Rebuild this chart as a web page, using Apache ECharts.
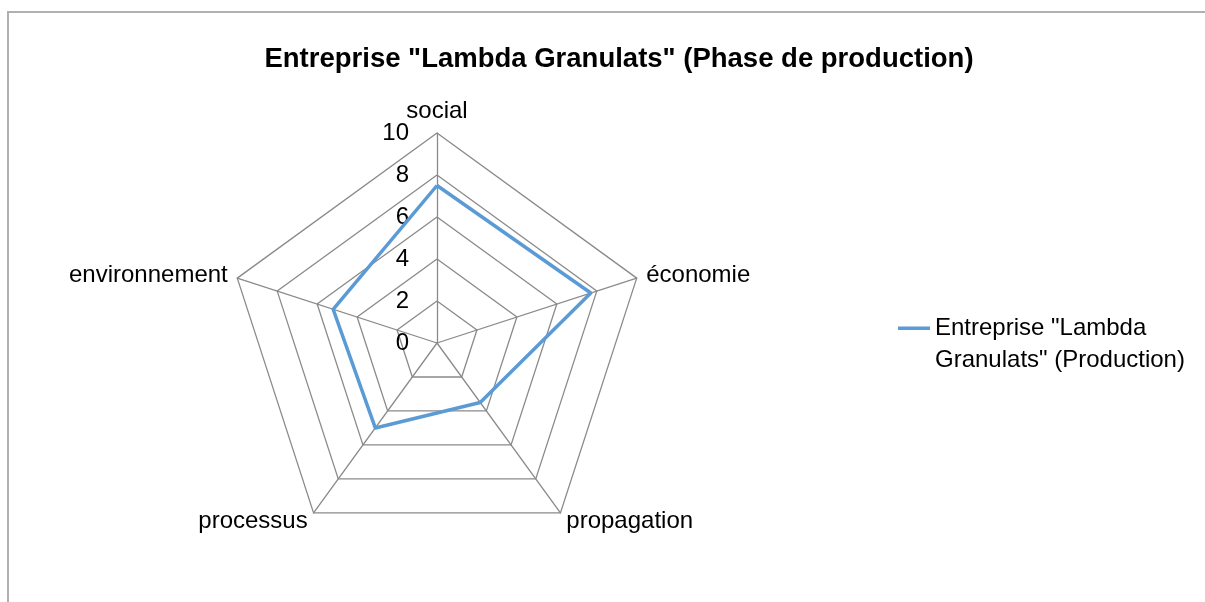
<!DOCTYPE html>
<html>
<head>
<meta charset="utf-8">
<script src="https://cdn.jsdelivr.net/npm/echarts@6/dist/echarts.min.js"></script>
<style>
html,body{margin:0;padding:0;background:#fff;}
#main{width:1205px;height:602px;}
</style>
</head>
<body>
<div id="main"></div>
<script>
var titleText = 'Entreprise "Lambda Granulats" (Phase de production)';
// clockwise order starting at the top
var categories = ['social', 'économie', 'propagation', 'processus', 'environnement'];
var seriesName = 'Entreprise "Lambda Granulats" (Production)';
var legendLabel = 'Entreprise "Lambda\nGranulats" (Production)';
var values = [7.5, 7.7, 3.5, 5.0, 5.2];
var axisMax = 10;
var tickInterval = 2;

// ECharts radar runs counter-clockwise: reorder so the picture goes clockwise
var order = [0, 4, 3, 2, 1];
var radarCats = order.map(function (i) { return categories[i]; });
var radarVals = order.map(function (i) { return values[i]; });

var FONT = 'Liberation Sans';
var chart = echarts.init(document.getElementById('main'), null, {renderer: 'canvas'});
var gridColor = '#8a8a8a';
var option = {
  backgroundColor: '#ffffff',
  animation: false,
  graphic: [{
    type: 'rect',
    shape: {x: 8, y: 12, width: 1210, height: 610},
    style: {fill: 'none', stroke: '#b0b0b0', lineWidth: 2},
    silent: true
  }],
  title: {
    text: titleText,
    left: 614,
    textAlign: 'center',
    top: 40,
    textStyle: {fontFamily: FONT, fontSize: 27.5, fontWeight: 'bold', color: '#000'}
  },
  legend: {
    left: 893,
    top: 307,
    orient: 'vertical',
    icon: 'path://M0,0h32v3.5h-32zM0,35h32',
    itemWidth: 32,
    itemHeight: 35,
    itemGap: 0,
    data: [seriesName],
    formatter: function () { return legendLabel; },
    textStyle: {fontFamily: FONT, fontSize: 24, color: '#000', lineHeight: 32}
  },
  radar: {
    center: [437, 343],
    radius: 210,
    startAngle: 90,
    shape: 'polygon',
    splitNumber: axisMax / tickInterval,
    indicator: radarCats.map(function (c) { return {name: c, min: 0, max: axisMax}; }),
    axisName: {color: '#000', fontFamily: FONT, fontSize: 24},
    nameGap: 10,
    axisLine: {lineStyle: {color: gridColor, width: 1.3}},
    splitLine: {lineStyle: {color: gridColor, width: 1.3}},
    splitArea: {show: false},
    axisTick: {show: false},
    axisLabel: {show: false}
  },
  polar: {center: [437, 343], radius: 210},
  angleAxis: {show: false, startAngle: 90, min: 0, max: 360},
  radiusAxis: {
    min: 0, max: axisMax, interval: tickInterval,
    axisLine: {show: false}, axisTick: {show: false}, splitLine: {show: false},
    axisLabel: {show: true, margin: 28, color: '#000', fontFamily: FONT, fontSize: 24}
  },
  series: [{
    name: seriesName,
    type: 'radar',
    symbol: 'none',
    lineStyle: {color: '#5B9BD5', width: 3.5},
    itemStyle: {color: '#5B9BD5'},
    data: [{value: radarVals, name: seriesName}]
  }]
};
chart.setOption(option);
</script>
</body>
</html>
